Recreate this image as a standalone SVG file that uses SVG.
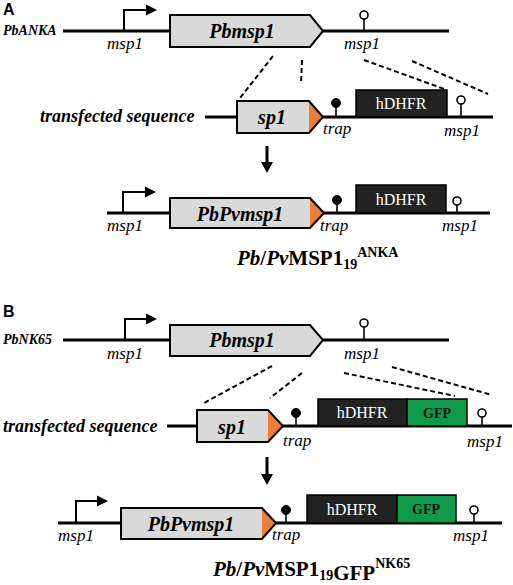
<svg xmlns="http://www.w3.org/2000/svg" width="513" height="585" viewBox="0 0 513 585">
<defs>
<style>
.bg{fill:#ffffff}
.ln{stroke:#000;stroke-width:3;fill:none}
.pr{stroke:#000;stroke-width:2;fill:none}
.dash{stroke:#000;stroke-width:2;stroke-dasharray:5,3;fill:none}
.gene{fill:#d9d9d9}
.outl{fill:none;stroke:#000;stroke-width:2;stroke-linejoin:miter}
.tri{fill:#ed7d31}
.blk{fill:#222222;stroke:#000;stroke-width:1.5}
.gfp{fill:#0f9a49;stroke:#000;stroke-width:1.5}
.term{fill:#fff;stroke:#000;stroke-width:1.6}
.trap{fill:#000;stroke:#000;stroke-width:1}
.stem{stroke:#000;stroke-width:1.6}
.lab{font-family:"Liberation Serif",serif;font-style:italic;font-size:17px;fill:#000}
.gn{font-family:"Liberation Serif",serif;font-style:italic;font-weight:bold;font-size:20px;fill:#000;text-anchor:middle}
.strain{font-family:"Liberation Serif",serif;font-style:italic;font-weight:bold;font-size:14px;fill:#000}
.tf{font-family:"Liberation Serif",serif;font-style:italic;font-weight:bold;font-size:18px;fill:#000}
.hd{font-family:"Liberation Serif",serif;font-size:16px;fill:#fff;text-anchor:middle}
.gf{font-family:"Liberation Serif",serif;font-weight:bold;font-size:14px;fill:#111;text-anchor:middle}
.panel{font-family:"Liberation Sans",sans-serif;font-weight:bold;font-size:16px;fill:#000}
.title{font-family:"Liberation Serif",serif;font-weight:bold;font-size:21px;fill:#000}
</style>
</defs>
<rect class="bg" x="0" y="0" width="513" height="585"/>

<!-- Panel A -->
<g id="panelA-label"><text class="panel" x="3" y="15">A</text></g>
<g id="A-row1">
  <text class="strain" x="3" y="35">PbANKA</text>
  <line class="ln" x1="63" y1="31" x2="449" y2="31"/>
  <path class="pr" d="M124 31 V10 H148"/>
  <polygon points="146,4.5 157,10 146,15.5" fill="#000"/>
  <text class="lab" x="107" y="49">msp1</text>
  <polygon class="gene" points="170,15 310,15 323,31 310,47 170,47"/>
  <polygon class="outl" points="170,15 310,15 323,31 310,47 170,47"/>
  <text class="gn" x="242" y="38">Pbmsp1</text>
  <line class="stem" x1="364" y1="31" x2="364" y2="19"/>
  <circle class="term" cx="364" cy="15" r="4"/>
  <text class="lab" x="344" y="49">msp1</text>
</g>
<g id="A-row2">
  <text class="tf" x="40" y="122">transfected sequence</text>
  <line class="ln" x1="205" y1="117" x2="493" y2="117"/>
  <polygon class="gene" points="237,101 309,101 323,117 309,133 237,133"/>
  <polygon class="tri" points="309,101 323,117 309,133"/>
  <polygon class="outl" points="237,101 309,101 323,117 309,133 237,133"/>
  <text class="gn" x="272" y="124">sp1</text>
  <line class="stem" x1="336" y1="117" x2="336" y2="104"/>
  <circle class="trap" cx="336" cy="103" r="4.5"/>
  <text class="lab" x="323" y="134">trap</text>
  <rect class="blk" x="356" y="90" width="91" height="27"/>
  <text class="hd" x="401" y="109">hDHFR</text>
  <line class="stem" x1="461" y1="117" x2="461" y2="104"/>
  <circle class="term" cx="461" cy="100" r="4"/>
  <text class="lab" x="444" y="136">msp1</text>
</g>
<g id="A-row3">
  <line class="ln" x1="107" y1="213" x2="490" y2="213"/>
  <path class="pr" d="M123 213 V192 H147"/>
  <polygon points="145,186.5 156,192 145,197.5" fill="#000"/>
  <text class="lab" x="107" y="231">msp1</text>
  <polygon class="gene" points="170,198 310,198 324,213 310,228 170,228"/>
  <polygon class="tri" points="310,198 324,213 310,228"/>
  <polygon class="outl" points="170,198 310,198 324,213 310,228 170,228"/>
  <text class="gn" x="240" y="221">PbPvmsp1</text>
  <line class="stem" x1="337" y1="213" x2="337" y2="201"/>
  <circle class="trap" cx="337" cy="200" r="4.5"/>
  <text class="lab" x="320" y="231">trap</text>
  <rect class="blk" x="356" y="185" width="90" height="28"/>
  <text class="hd" x="401" y="205">hDHFR</text>
  <line class="stem" x1="457" y1="213" x2="457" y2="205"/>
  <circle class="term" cx="457" cy="201" r="4"/>
  <text class="lab" x="442" y="231">msp1</text>
</g>
<g id="A-title">
  <text class="title" x="237" y="265"><tspan font-style="italic">Pb</tspan>/<tspan font-style="italic">Pv</tspan>MSP1<tspan font-size="14" dy="4">19</tspan><tspan font-size="14" dy="-12">ANKA</tspan></text>
</g>

<!-- Panel B -->
<g id="panelB-label"><text class="panel" x="3" y="317">B</text></g>
<g id="B-row1">
  <text class="strain" x="3" y="344">PbNK65</text>
  <line class="ln" x1="63" y1="340" x2="449" y2="340"/>
  <path class="pr" d="M125 340 V319 H148"/>
  <polygon points="146,313.5 157,319 146,324.5" fill="#000"/>
  <text class="lab" x="107" y="359">msp1</text>
  <polygon class="gene" points="170,325 310,325 323,340 310,356 170,356"/>
  <polygon class="outl" points="170,325 310,325 323,340 310,356 170,356"/>
  <text class="gn" x="242" y="347">Pbmsp1</text>
  <line class="stem" x1="364" y1="340" x2="364" y2="327"/>
  <circle class="term" cx="364" cy="323" r="4"/>
  <text class="lab" x="344" y="359">msp1</text>
</g>
<g id="B-row2">
  <text class="tf" x="3" y="432">transfected sequence</text>
  <line class="ln" x1="167" y1="426" x2="512" y2="426"/>
  <polygon class="gene" points="197,410 268,410 283,426 268,442 197,442"/>
  <polygon class="tri" points="268,410 283,426 268,442"/>
  <polygon class="outl" points="197,410 268,410 283,426 268,442 197,442"/>
  <text class="gn" x="232" y="434">sp1</text>
  <line class="stem" x1="296" y1="426" x2="296" y2="414"/>
  <circle class="trap" cx="296" cy="413" r="4.5"/>
  <text class="lab" x="283" y="446">trap</text>
  <rect class="blk" x="318" y="399" width="89" height="27"/>
  <text class="hd" x="362" y="418">hDHFR</text>
  <rect class="gfp" x="407" y="399" width="60" height="27"/>
  <text class="gf" x="437" y="418">GFP</text>
  <line class="stem" x1="482" y1="426" x2="482" y2="417"/>
  <circle class="term" cx="482" cy="413" r="4"/>
  <text class="lab" x="467" y="447">msp1</text>
</g>
<g id="B-row3">
  <line class="ln" x1="58" y1="523" x2="502" y2="523"/>
  <path class="pr" d="M76 523 V501 H99"/>
  <polygon points="97,495.5 108,501 97,506.5" fill="#000"/>
  <text class="lab" x="58" y="541">msp1</text>
  <polygon class="gene" points="121,508 262,508 276,523 262,539 121,539"/>
  <polygon class="tri" points="262,508 276,523 262,539"/>
  <polygon class="outl" points="121,508 262,508 276,523 262,539 121,539"/>
  <text class="gn" x="191" y="531">PbPvmsp1</text>
  <line class="stem" x1="286" y1="523" x2="286" y2="511"/>
  <circle class="trap" cx="286" cy="510" r="4.5"/>
  <text class="lab" x="272" y="540">trap</text>
  <rect class="blk" x="307" y="495" width="90" height="28"/>
  <text class="hd" x="352" y="515">hDHFR</text>
  <rect class="gfp" x="397" y="495" width="59" height="28"/>
  <text class="gf" x="426" y="514">GFP</text>
  <line class="stem" x1="474" y1="523" x2="474" y2="514"/>
  <circle class="term" cx="474" cy="510" r="4"/>
  <text class="lab" x="453" y="541">msp1</text>
</g>
<g id="B-title">
  <text class="title" x="213" y="576"><tspan font-style="italic">Pb</tspan>/<tspan font-style="italic">Pv</tspan>MSP1<tspan font-size="14" dy="4">19</tspan>GFP<tspan font-size="14" dy="-12">NK65</tspan></text>
</g>

<!-- Connectors -->
<g id="connectors">
  <line class="dash" x1="273" y1="56" x2="240" y2="98"/>
  <line class="dash" x1="302" y1="60" x2="301" y2="84"/>
  <line class="dash" x1="364" y1="60" x2="447" y2="90"/>
  <line class="dash" x1="412" y1="61" x2="488" y2="94"/>
  <line x1="267" y1="146" x2="267" y2="164" stroke="#000" stroke-width="3"/>
  <polygon points="261,162 273,162 267,173" fill="#000"/>
  <line class="dash" x1="272" y1="366" x2="204" y2="403"/>
  <line class="dash" x1="302" y1="373" x2="270" y2="398"/>
  <line class="dash" x1="344" y1="373" x2="455" y2="396"/>
  <line class="dash" x1="392" y1="367" x2="492" y2="395"/>
  <line x1="267" y1="457" x2="267" y2="476" stroke="#000" stroke-width="3"/>
  <polygon points="261,474 273,474 267,485" fill="#000"/>
</g>
</svg>
